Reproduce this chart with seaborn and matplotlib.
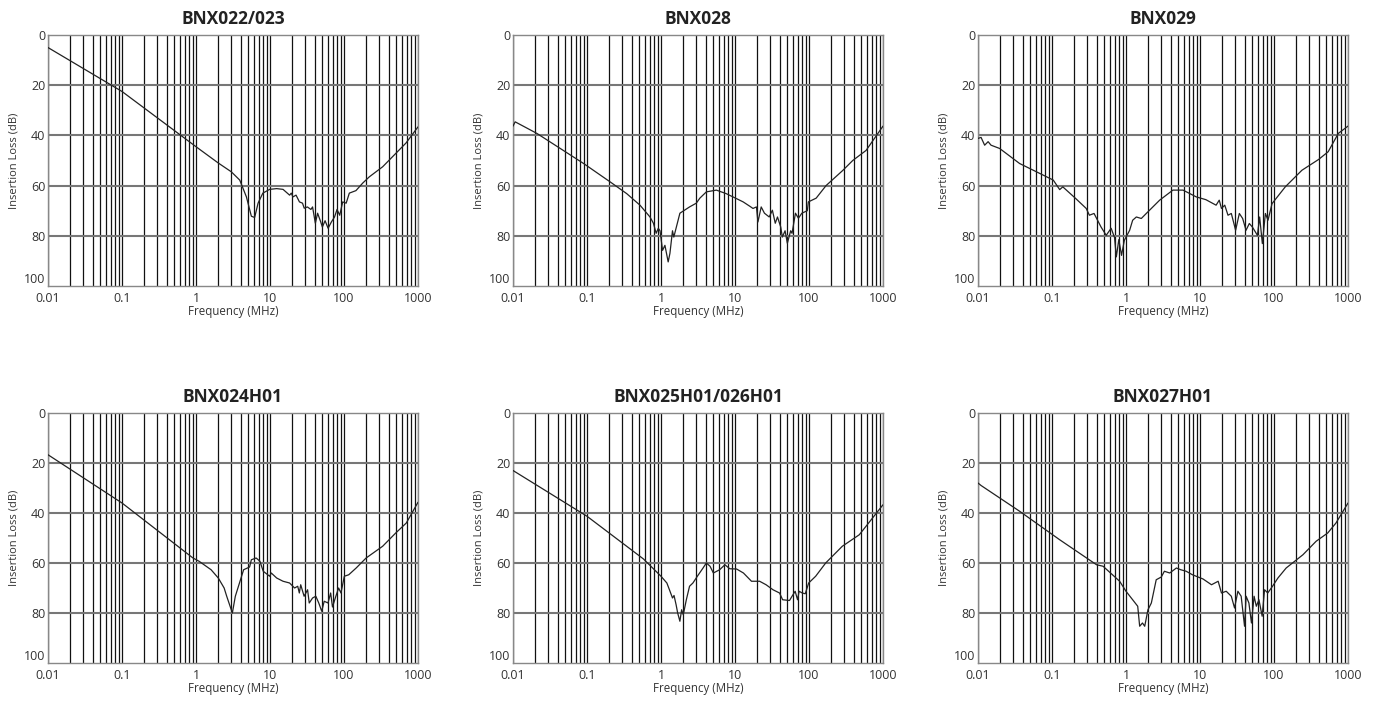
import numpy as np
import pandas as pd
import matplotlib
matplotlib.use("Agg")
import matplotlib.pyplot as plt
import seaborn as sns

titles = ["BNX022/023", "BNX028", "BNX029", "BNX024H01", "BNX025H01/026H01", "BNX027H01"]

f1 = [0.01, 0.1, 1, 2, 3, 3.9, 4.8, 5.6, 6.2, 6.9, 8.0, 9.9, 12.3, 15, 18.4, 19.4, 20.4, 22.5, 25, 27.5, 29, 32,
      35.7, 37.6, 41, 44, 48.5, 51, 55.5, 61, 67.5, 74.5, 80.5, 87.5, 96, 107, 118, 145, 179, 220, 333, 500, 690, 1000]
l1 = [5, 22.5, 44.5, 51, 54.5, 57.8, 64.5, 72.2, 72.7, 67, 63, 61.5, 61.2, 61.5, 63.8, 63, 64.5, 63.8, 66.5, 67, 69, 68.5,
      69.5, 68.5, 75, 71, 74.5, 76.5, 74, 77, 74.5, 72.5, 69.5, 71.8, 66.5, 67, 63, 62, 59, 56.5, 52.5, 47.2, 43, 36.6]

f2 = [0.01, 0.0107, 0.021, 0.09, 0.205, 0.344, 0.52, 0.71, 0.79, 0.86, 0.92, 0.97, 1.05, 1.13, 1.25, 1.32, 1.43, 1.49,
      1.8, 2.43, 3.0, 3.35, 4.1, 5.6, 7.6, 10.5, 12.9, 15.8, 17.5, 19.5, 20.4, 22.6, 25, 29, 32, 35, 37.5, 41.5, 43.6,
      47.5, 51, 56.5, 59, 65.6, 72, 80, 95, 98, 125, 170, 285, 390, 590, 1000]
l2 = [36.3, 34.6, 39.2, 51.2, 58.5, 63.2, 67.8, 72.5, 75, 79, 77, 78, 85.8, 83.8, 90.4, 87, 78, 80.5,
      71, 68.5, 67, 65, 62.5, 61.8, 63.2, 65.2, 66.5, 68.2, 69.1, 68.5, 74.5, 68.5, 71, 72.5, 69.8, 75, 72.5, 76.5, 80.5,
      78, 83, 78, 79, 71, 73, 71, 70, 66.5, 65, 60, 54, 50, 46, 36.3]

f3 = [0.01, 0.011, 0.0123, 0.0137, 0.015, 0.0196, 0.0365, 0.104, 0.127, 0.14, 0.21, 0.29, 0.32, 0.37, 0.46, 0.54, 0.63,
      0.7, 0.74, 0.80, 0.87, 0.95, 1.12, 1.23, 1.38, 1.61, 1.88, 2.85, 4.3, 5.9, 8.9, 12, 16.5, 18.2, 19.5, 21.6, 23.9,
      26.5, 30.3, 34, 37.7, 41.9, 46.4, 51, 59.7, 64, 69.6, 76.5, 83, 94, 142, 238, 400, 540, 740, 1000]
l3 = [41.2, 40.8, 43.9, 42.5, 43.9, 45.2, 51.2, 57.8, 61.6, 60.5, 65.2, 69.1, 71.8, 71.1, 76.5, 79.8, 77,
      80.7, 88.4, 81.5, 87.8, 81.8, 77.8, 73.8, 72.5, 73.1, 71.1, 65.8, 61.8, 61.8, 64.5, 65.6, 67.8, 65.8, 69.1, 67.8, 71.8,
      71.1, 77.8, 71.1, 73.1, 77.8, 75.1, 76.5, 79.8, 72.5, 83.1, 71.1, 73.8, 67.2, 60.5, 53.9, 49.6, 46.5, 39.2, 36.3]

f4 = [0.01, 0.1, 0.91, 1.1, 1.6, 2.0, 2.4, 2.6, 3.1, 3.4, 4.4, 5.3, 5.6, 6.5, 7.3, 8.1, 9.9, 10.4, 12.3, 15, 18.4,
      21.5, 23.7, 24.9, 26, 28.9, 32.2, 33.9, 37.6, 41.6, 45.6, 50, 54, 60.8, 66, 69.9, 77.6, 84.6, 91, 101, 116, 146,
      199, 333, 500, 695, 1000]
l4 = [16.7, 36, 58, 59.3, 62.7, 66, 70, 73.3, 80, 73.3, 62.7, 61.6, 58.7, 58, 59.3, 63.3, 65.3, 64, 66, 67.3, 68,
      70, 69.3, 72, 68.7, 73.3, 70.7, 76, 74, 73.3, 76, 79.3, 75.3, 76, 72, 77.6, 73.3, 70, 72, 65.3, 64.7, 62,
      58, 53.3, 48, 44, 35.7]

f5 = [0.01, 0.1, 0.58, 1.0, 1.2, 1.3, 1.43, 1.5, 1.6, 1.68, 1.8, 1.9, 2.0, 2.2, 2.43, 2.7, 3.1, 3.7, 4.1, 4.6, 5.1,
      6.2, 7.3, 8.5, 10.5, 13, 16.7, 21.5, 26.3, 32.6, 40, 44, 54.5, 59, 65, 70, 73.5, 81, 89, 99, 123, 168, 282, 478,
      590, 1000]
l5 = [23, 41.3, 58.4, 65.3, 68, 70.7, 74, 73, 76.7, 80, 83.3, 78.7, 80.7, 74.7, 69.3, 68, 65.3, 62, 60, 61.3, 64,
      62.7, 60.7, 62.3, 62.4, 64, 67.3, 67.3, 68.7, 70.7, 72, 74.7, 75, 73.3, 71.3, 74.7, 71.3, 72, 72.3, 68, 65.3, 60, 53.3, 48.7,
      45.3, 36.7]

f6 = [0.01, 0.011, 0.0365, 0.127, 0.4, 0.49, 0.82, 1.0, 1.23, 1.44, 1.53, 1.67, 1.79, 1.98, 2.2, 2.56, 3.0, 3.3, 3.9,
      4.8, 5.5, 6.5, 7.9, 11, 14.3, 17.6, 19.5, 22.6, 26.5, 29.3, 32.5, 36, 40, 42, 45.8, 49.6, 53.8, 57.7, 62.6, 69.2,
      74.5, 82.3, 95.5, 113, 146, 246, 371, 532, 688, 1000]
l6 = [28, 29, 39.3, 50.7, 60.7, 61.3, 67.3, 71.3, 74.7, 77.3, 85.3, 84, 85.3, 78.7, 76, 66.7, 65.6, 63.3, 64,
      62, 62.7, 63.3, 64.7, 66.4, 68.7, 67.3, 72, 71.3, 73.3, 78, 71.3, 73.3, 85.3, 73.3, 76, 84, 73.3, 77.3, 74.7, 81.3,
      70.7, 72, 69.3, 66, 62, 56.7, 51.3, 48, 44, 36]

freqs = [f1, f2, f3, f4, f5, f6]
losses = [l1, l2, l3, l4, l5, l6]

y_ticks = [0, 20, 40, 60, 80, 100]
x_ticks = [0.01, 0.1, 1, 10, 100, 1000]
x_tick_labels = ["0.01", "0.1", "1", "10", "100", "1000"]

sns.set_theme(style="white")
plt.rcParams['font.family'] = ['Open Sans', 'DejaVu Sans']

fig = plt.figure(figsize=(13.81, 7.02), dpi=100)
W, H = 1381, 702
lefts = [48, 513, 978]
tops = [35, 413]
bottoms = [286, 663]
aw = 370

txt = "#333333"
minor_x = [m * 10.0 ** e for e in range(-2, 3) for m in range(2, 10)]

for i in range(6):
    r, c = divmod(i, 3)
    ax = fig.add_axes([lefts[c] / W, 1 - bottoms[r] / H, aw / W, (bottoms[r] - tops[r]) / H])
    df = pd.DataFrame({"f": freqs[i], "loss": losses[i]})
    ax.set_xscale("log")
    for xv in minor_x + x_ticks:
        ax.axvline(xv, color="#111111", lw=0.9, zorder=1)
    for yv in [20, 40, 60, 80]:
        ax.axhline(yv, color="#777777", lw=1.5, zorder=1)
    sns.lineplot(data=df, x="f", y="loss", ax=ax, color="#222222", lw=0.9, zorder=3, sort=False)
    ax.set_xlim(0.01, 1000)
    ax.set_ylim(100, 0)
    ax.set_xticks(x_ticks)
    ax.set_xticklabels(x_tick_labels)
    ax.xaxis.set_minor_locator(matplotlib.ticker.NullLocator())
    ax.set_yticks(y_ticks)
    ax.tick_params(axis="both", length=0, labelsize=9, colors=txt)
    ax.tick_params(axis="y", pad=2)
    ax.tick_params(axis="x", pad=4)
    for lab in ax.get_yticklabels():
        if lab.get_text() == "100":
            lab.set_verticalalignment("bottom")
    ax.set_xlabel("Frequency (MHz)", fontsize=8.3, color=txt, labelpad=0)
    ax.set_ylabel("Insertion Loss (dB)", fontsize=8, color=txt, labelpad=3)
    ax.set_title(titles[i], fontsize=12.5, fontweight="bold", color="#222222", pad=8)
    for s in ax.spines.values():
        s.set_color("#888888")
        s.set_linewidth(1.0)

fig.savefig("out.png", dpi=100, facecolor="white")
